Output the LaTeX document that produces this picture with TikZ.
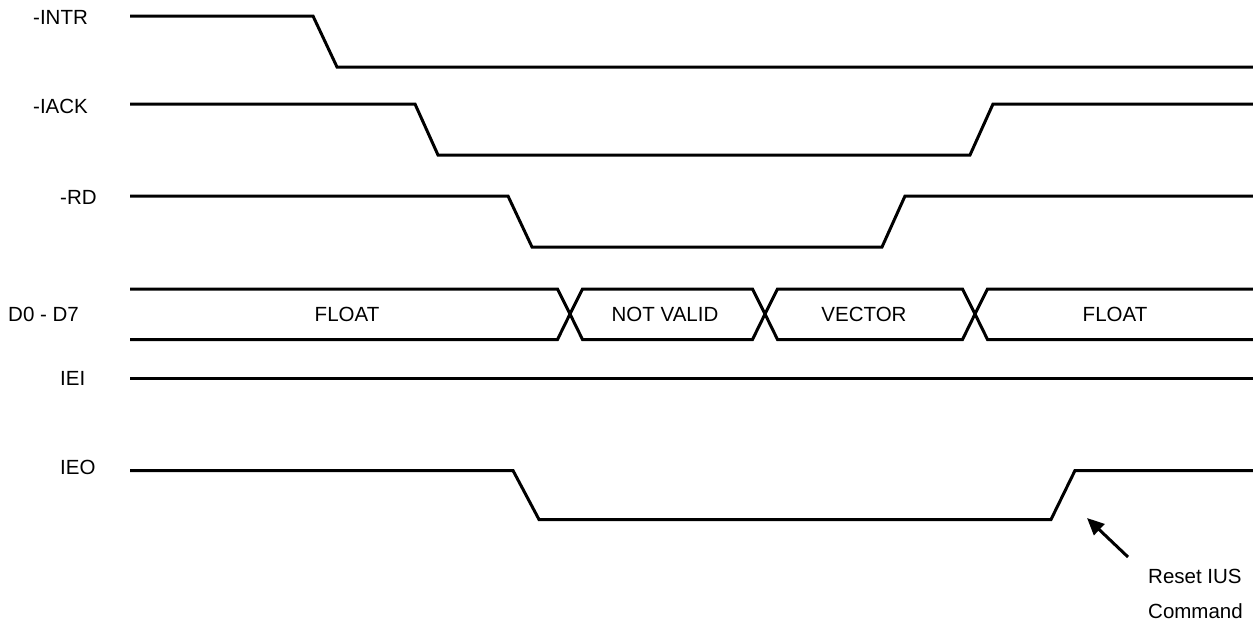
\documentclass[tikz,border=0pt]{standalone}
\usepackage{fontspec}
\setmainfont{Liberation Sans}
\usetikzlibrary{arrows.meta}
\begin{document}
\begin{tikzpicture}[x=1pt,y=-1pt,
  wave/.style={line width=3pt,line join=miter},
  lbl/.style={anchor=west,inner sep=0pt,font=\fontsize{20.5}{24}\selectfont},
  txt/.style={inner sep=0pt,font=\fontsize{20.5}{24}\selectfont},
  pointer/.style={line width=3pt,-{Triangle[length=17pt,width=15pt]}}]
\useasboundingbox (0,0) rectangle (1253,622);
% signal labels
\node[lbl] (lintr) at (33,17) {-INTR};
\node[lbl] (liack) at (33,106) {-IACK};
\node[lbl] (lrd) at (60,197) {-RD};
\node[lbl] (ldata) at (8,314) {D0 - D7};
\node[lbl] (liei) at (60,378) {IEI};
\node[lbl] (lieo) at (60,467) {IEO};
% -INTR
\draw[wave] (130,16) -- (313,16) -- (337,67) -- (1253,67);
% -IACK
\draw[wave] (130,104) -- (415,104) -- (438,155) -- (970,155) -- (993,104) -- (1253,104);
% -RD
\draw[wave] (130,196) -- (508,196) -- (532,247) -- (882,247) -- (905,196) -- (1253,196);
% D0 - D7 bus
\draw[wave] (130,289) -- (557.5,289) -- (570,314) -- (557.5,339.5) -- (130,339.5);
\draw[wave] (570,314) -- (582.5,289) -- (752.5,289) -- (765,314) -- (752.5,339.5) -- (582.5,339.5) -- cycle;
\draw[wave] (765,314) -- (777.5,289) -- (962.5,289) -- (975,314) -- (962.5,339.5) -- (777.5,339.5) -- cycle;
\draw[wave] (1253,289) -- (987.5,289) -- (975,314) -- (987.5,339.5) -- (1253,339.5);
\node[txt] (float1) at (347,314) {FLOAT};
\node[txt] (notvalid) at (665,314) {NOT VALID};
\node[txt] (vector) at (864,314) {VECTOR};
\node[txt] (float2) at (1115,314) {FLOAT};
% IEI
\draw[wave] (130,378.5) -- (1253,378.5);
% IEO
\draw[wave] (130,470.5) -- (513,470.5) -- (539,519.5) -- (1051,519.5) -- (1075,470.5) -- (1253,470.5);
% annotation
\node[txt,anchor=west,align=left] (reset) at (1148,576) {Reset IUS};
\node[txt,anchor=west,align=left] (cmd) at (1148,611) {Command};
\coordinate (tail) at (1128,557);
\coordinate (tip) at (1087,518);
\draw[pointer] (tail) -- (tip);
\end{tikzpicture}
\end{document}
